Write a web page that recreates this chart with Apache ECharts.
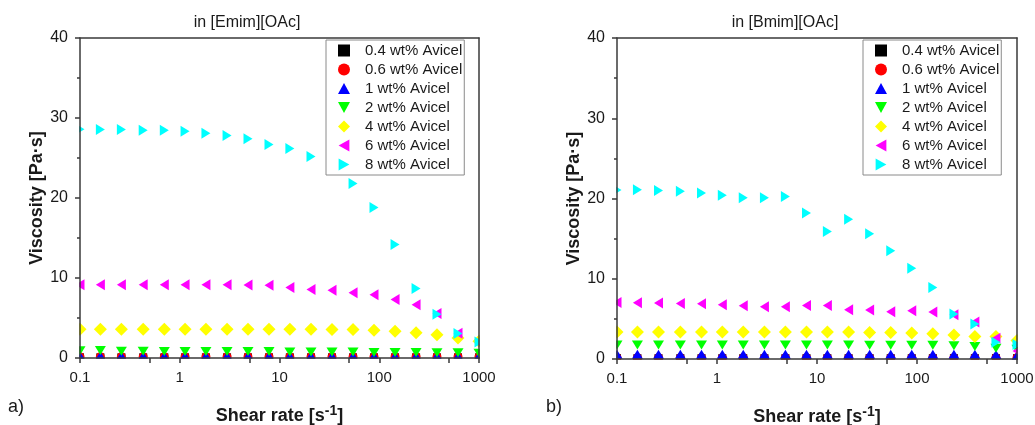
<!DOCTYPE html>
<html>
<head>
<meta charset="utf-8">
<script src="https://cdn.jsdelivr.net/npm/echarts@6/dist/echarts.min.js"></script>
<style>
  html, body { margin: 0; padding: 0; background: #fff; }
  #chart { width: 1035px; height: 425px; }
</style>
</head>
<body>
<div id="chart"></div>
<script>
// Shear rates of the flow sweep [1/s]
const shearRate = [0.1, 0.16, 0.26, 0.43, 0.70, 1.13, 1.83, 2.98, 4.83, 7.85, 12.7, 20.7, 33.6, 54.6, 88.6, 144, 234, 379, 616, 1000];

// Legend / series names
const seriesNames = ['0.4 wt% Avicel', '0.6 wt% Avicel', '1 wt% Avicel', '2 wt% Avicel', '4 wt% Avicel', '6 wt% Avicel', '8 wt% Avicel'];

// Viscosity [Pa·s] in [Emim][OAc]
const emim04 = [0.08, 0.08, 0.08, 0.08, 0.08, 0.08, 0.08, 0.08, 0.08, 0.08, 0.08, 0.08, 0.08, 0.08, 0.08, 0.08, 0.08, 0.08, 0.08, 0.08];
const emim06 = [0.15, 0.15, 0.15, 0.15, 0.15, 0.15, 0.15, 0.15, 0.15, 0.15, 0.15, 0.15, 0.15, 0.15, 0.15, 0.15, 0.15, 0.15, 0.15, 0.15];
const emim1  = [0.25, 0.25, 0.25, 0.25, 0.25, 0.25, 0.25, 0.25, 0.25, 0.25, 0.25, 0.25, 0.25, 0.25, 0.25, 0.25, 0.25, 0.25, 0.25, 0.25];
const emim2  = [0.9, 0.95, 0.85, 0.85, 0.8, 0.8, 0.8, 0.8, 0.8, 0.8, 0.75, 0.75, 0.75, 0.75, 0.7, 0.7, 0.7, 0.65, 0.65, 0.6];
const emim4  = [3.6, 3.6, 3.6, 3.6, 3.6, 3.6, 3.6, 3.6, 3.6, 3.6, 3.6, 3.58, 3.55, 3.55, 3.46, 3.33, 3.17, 2.92, 2.5, 2.1];
const emim6  = [9.15, 9.15, 9.15, 9.15, 9.15, 9.15, 9.15, 9.15, 9.12, 9.1, 8.8, 8.55, 8.46, 8.17, 7.9, 7.3, 6.67, 5.55, 3.1, 1.9];
const emim8  = [28.6, 28.55, 28.55, 28.46, 28.46, 28.33, 28.1, 27.8, 27.4, 26.7, 26.2, 25.2, 24.0, 21.8, 18.8, 14.2, 8.7, 5.46, 3.05, 2.0];

// Viscosity [Pa·s] in [Bmim][OAc]
const bmim04 = [0.1, 0.1, 0.1, 0.1, 0.1, 0.1, 0.1, 0.1, 0.1, 0.1, 0.1, 0.1, 0.1, 0.1, 0.1, 0.1, 0.1, 0.1, 0.1, 0.1];
const bmim06 = [0.15, 0.15, 0.15, 0.15, 0.15, 0.15, 0.15, 0.15, 0.15, 0.15, 0.15, 0.15, 0.15, 0.15, 0.15, 0.15, 0.15, 0.15, 0.15, 0.15];
const bmim1  = [0.6, 0.6, 0.6, 0.6, 0.6, 0.6, 0.6, 0.6, 0.6, 0.6, 0.6, 0.6, 0.6, 0.6, 0.6, 0.6, 0.6, 0.6, 0.55, 0.45];
const bmim2  = [1.75, 1.75, 1.75, 1.75, 1.75, 1.75, 1.75, 1.75, 1.75, 1.75, 1.75, 1.75, 1.7, 1.7, 1.7, 1.7, 1.65, 1.55, 1.35, 1.2];
const bmim4  = [3.35, 3.35, 3.35, 3.35, 3.35, 3.35, 3.35, 3.35, 3.35, 3.35, 3.35, 3.35, 3.3, 3.3, 3.25, 3.15, 3.0, 2.8, 2.8, 2.3];
const bmim6  = [7.05, 7.0, 6.97, 6.93, 6.9, 6.76, 6.64, 6.5, 6.5, 6.67, 6.67, 6.14, 6.1, 5.9, 6.0, 5.85, 5.5, 4.6, 2.6, 1.0];
const bmim8  = [21.05, 21.08, 21.0, 20.9, 20.7, 20.4, 20.1, 20.1, 20.25, 18.2, 15.9, 17.4, 15.6, 13.5, 11.3, 8.9, 5.6, 4.35, 2.1, 1.8];

// Axis ticks
const xLabelTicks = [0.1, 1, 10, 100, 1000];
const xTicks = [0.1, 0.5, 1, 5, 10, 50, 100, 500, 1000];

const FONT = "'Liberation Sans', Arial, Helvetica, sans-serif";
const AXIS_COLOR = '#3a3a3a';
const TEXT_COLOR = '#1a1a1a';

// Marker styles (Origin-like symbols)
const markers = [
  { symbol: 'path://M0,0 L10,0 L10,10 L0,10 Z', size: [8, 8], color: '#000000' },
  { symbol: 'circle', size: 9, color: '#ff0000' },
  { symbol: 'path://M5,0 L10,9 L0,9 Z', size: [11, 10], color: '#0000ff' },
  { symbol: 'path://M0,0 L10,0 L5,9 Z', size: [11, 10], color: '#00ff00' },
  { symbol: 'path://M5,0 L10,5 L5,10 L0,5 Z', size: [13, 13], color: '#ffff00' },
  { symbol: 'path://M9,0 L9,10 L0,5 Z', size: [10, 11], color: '#ff00ff' },
  { symbol: 'path://M0,0 L9,5 L0,10 Z', size: [10, 11], color: '#00ffff' }
];

// Plot areas
const grids = [
  { left: 80, top: 38, width: 399, height: 320 },
  { left: 617, top: 38, width: 400, height: 321 }
];

function pairs(ys) {
  return shearRate.map((x, i) => [x, ys[i]]);
}

const panels = [
  [emim04, emim06, emim1, emim2, emim4, emim6, emim8],
  [bmim04, bmim06, bmim1, bmim2, bmim4, bmim6, bmim8]
];

const xAxes = [];
const yAxes = [];
grids.forEach((g, gi) => {
  xAxes.push({
    type: 'log', logBase: 10, gridIndex: gi, position: 'bottom', min: 0.1, max: 1000, z: 10,
    name: 'Shear rate [s{sup|-1}]', nameLocation: 'middle', nameGap: 46,
    nameTextStyle: {
      fontFamily: FONT, fontSize: 18, fontWeight: 'bold', color: TEXT_COLOR,
      rich: {
        sup: { fontFamily: FONT, fontSize: 14, fontWeight: 'bold', color: TEXT_COLOR, verticalAlign: 'top', padding: [0, 0, 10, 0] }
      }
    },
    axisLine: { show: true, onZero: false, lineStyle: { color: AXIS_COLOR, width: 1.5 } },
    axisTick: { show: true, inside: false, length: 5, customValues: xTicks, lineStyle: { color: AXIS_COLOR, width: 1.5 } },
    axisLabel: { show: true, customValues: xLabelTicks, margin: 12, fontFamily: FONT, fontSize: 15, color: TEXT_COLOR,
      formatter: v => String(v) },
    splitLine: { show: false }, minorTick: { show: false }
  });
  xAxes.push({
    type: 'log', logBase: 10, gridIndex: gi, position: 'top', min: 0.1, max: 1000, z: 10,
    axisLine: { show: true, onZero: false, lineStyle: { color: AXIS_COLOR, width: 1.5 } },
    axisTick: { show: false }, axisLabel: { show: false }, splitLine: { show: false }
  });
  yAxes.push({
    type: 'value', gridIndex: gi, position: 'left', min: 0, max: 40, interval: 10, z: 10,
    name: 'Viscosity [Pa·s]', nameLocation: 'middle', nameGap: 33, nameRotate: 90,
    nameTextStyle: { fontFamily: FONT, fontSize: 18, fontWeight: 'bold', color: TEXT_COLOR },
    axisLine: { show: true, onZero: false, lineStyle: { color: AXIS_COLOR, width: 1.5 } },
    axisTick: { show: true, inside: false, length: 5, lineStyle: { color: AXIS_COLOR, width: 1.5 } },
    minorTick: { show: true, splitNumber: 2, length: 3, lineStyle: { color: AXIS_COLOR, width: 1.5 } },
    axisLabel: { margin: 12, fontFamily: FONT, fontSize: 16, color: TEXT_COLOR },
    splitLine: { show: false }
  });
  yAxes.push({
    type: 'value', gridIndex: gi, position: 'right', min: 0, max: 40, interval: 10, z: 10,
    axisLine: { show: true, onZero: false, lineStyle: { color: AXIS_COLOR, width: 1.5 } },
    axisTick: { show: false }, axisLabel: { show: false }, splitLine: { show: false }
  });
});

const series = [];
panels.forEach((sets, gi) => {
  sets.forEach((ys, si) => {
    const m = markers[si];
    series.push({
      type: 'scatter',
      name: seriesNames[si],
      xAxisIndex: gi * 2,
      yAxisIndex: gi * 2,
      data: pairs(ys),
      symbol: m.symbol,
      symbolSize: m.size,
      symbolKeepAspect: true,
      clip: false,
      itemStyle: { color: m.color, opacity: 1 },
      emphasis: { disabled: true },
      z: 2
    });
  });
});

function legendAt(left) {
  return {
    orient: 'vertical', left: left, top: 40,
    data: seriesNames,
    selectedMode: false,
    backgroundColor: '#ffffff',
    borderColor: '#8a8a8a', borderWidth: 1, borderRadius: 0,
    padding: [1, 2, 1, 12],
    itemWidth: 12, itemHeight: 12, itemGap: 0,
    symbolKeepAspect: true,
    formatter: name => '{gap|}' + name,
    textStyle: {
      fontFamily: FONT, fontSize: 15, color: TEXT_COLOR, lineHeight: 19,
      rich: { gap: { width: 10, fontSize: 15, lineHeight: 19 } }
    },
    z: 6
  };
}

// White masks just outside each frame so markers on the frame are cut at the edge
const masks = [];
grids.forEach(g => {
  const r = g.left + g.width, b = g.top + g.height;
  masks.push({ type: 'rect', z: 5, silent: true, shape: { x: g.left - 9, y: g.top - 9, width: 8.2, height: g.height + 18 }, style: { fill: '#fff' } });
  masks.push({ type: 'rect', z: 5, silent: true, shape: { x: r + 0.8, y: g.top - 9, width: 9, height: g.height + 18 }, style: { fill: '#fff' } });
  masks.push({ type: 'rect', z: 5, silent: true, shape: { x: g.left - 9, y: b + 0.8, width: g.width + 18, height: 9 }, style: { fill: '#fff' } });
});

const texts = [
  { type: 'text', x: 247, y: 23, z: 20, style: { text: 'in [Emim][OAc]', font: '16px ' + FONT, fill: TEXT_COLOR, textAlign: 'center', textVerticalAlign: 'middle' } },
  { type: 'text', x: 785, y: 23, z: 20, style: { text: 'in [Bmim][OAc]', font: '16px ' + FONT, fill: TEXT_COLOR, textAlign: 'center', textVerticalAlign: 'middle' } },
  { type: 'text', x: 8, y: 407, z: 20, style: { text: 'a)', font: '18px ' + FONT, fill: TEXT_COLOR, textAlign: 'left', textVerticalAlign: 'middle' } },
  { type: 'text', x: 546, y: 407, z: 20, style: { text: 'b)', font: '18px ' + FONT, fill: TEXT_COLOR, textAlign: 'left', textVerticalAlign: 'middle' } }
];

const chart = echarts.init(document.getElementById('chart'), null, { renderer: 'canvas' });
chart.setOption({
  animation: false,
  backgroundColor: '#ffffff',
  textStyle: { fontFamily: FONT },
  grid: grids.map(g => Object.assign({ containLabel: false, outerBoundsMode: 'none' }, g)),
  xAxis: xAxes,
  yAxis: yAxes,
  legend: [legendAt(326), legendAt(863)],
  graphic: masks.concat(texts),
  series: series
});
</script>
</body>
</html>
